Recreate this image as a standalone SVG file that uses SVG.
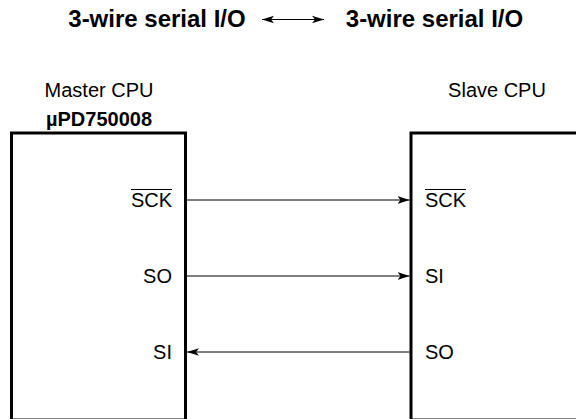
<svg xmlns="http://www.w3.org/2000/svg" width="576" height="419" viewBox="0 0 576 419">
<style>
  text { font-family: "Liberation Sans", Arial, sans-serif; fill: #000; }
  .title { font-size: 24px; font-weight: bold; text-anchor: middle; }
  .cap { font-size: 20px; text-anchor: middle; }
  .capb { font-size: 20px; font-weight: bold; text-anchor: middle; }
  .pinL { font-size: 20px; text-anchor: end; }
  .pinR { font-size: 20px; text-anchor: start; }
  .box { fill: #fff; stroke: #000; stroke-width: 3; }
  .wire { stroke: #000; stroke-width: 1; fill: none; }
  .bar { stroke: #000; stroke-width: 1; }
</style>
<defs>
  <marker id="ah" markerUnits="userSpaceOnUse" markerWidth="14" markerHeight="10" refX="12" refY="5" orient="auto-start-reverse" viewBox="0 0 14 10">
    <path d="M12,5 L0,1.2 L3,5 L0,8.8 Z" fill="#000"/>
  </marker>
</defs>
<rect width="576" height="419" fill="#fff"/>

<g id="title">
  <text class="title" x="157" y="26.5">3-wire serial I/O</text>
  <text class="title" x="434.5" y="26.5">3-wire serial I/O</text>
  <line class="wire" x1="262" y1="19.5" x2="324" y2="19.5" marker-start="url(#ah)" marker-end="url(#ah)"/>
</g>

<g id="master">
  <text class="cap" x="99" y="97">Master CPU</text>
  <text class="capb" x="99" y="126">µPD750008</text>
  <rect class="box" x="11.5" y="133" width="174" height="287"/>
  <text class="pinL" x="172" y="207">SCK</text>
  <line class="bar" x1="131" y1="189.5" x2="172" y2="189.5"/>
  <text class="pinL" x="172" y="283">SO</text>
  <text class="pinL" x="172" y="359">SI</text>
</g>

<g id="slave">
  <text class="cap" x="497" y="97">Slave CPU</text>
  <rect class="box" x="411" y="133" width="174" height="287"/>
  <text class="pinR" x="425" y="207">SCK</text>
  <line class="bar" x1="425" y1="189.5" x2="466" y2="189.5"/>
  <text class="pinR" x="425" y="283">SI</text>
  <text class="pinR" x="425" y="359">SO</text>
</g>

<g id="connectors">
  <line class="wire" x1="187" y1="200" x2="409.5" y2="200" marker-end="url(#ah)"/>
  <line class="wire" x1="187" y1="276" x2="409.5" y2="276" marker-end="url(#ah)"/>
  <line class="wire" x1="409.5" y1="352" x2="187" y2="352" marker-end="url(#ah)"/>
</g>
</svg>
